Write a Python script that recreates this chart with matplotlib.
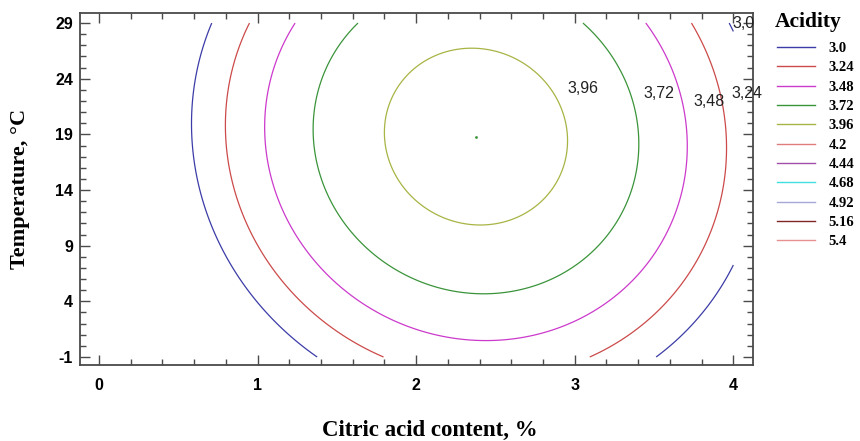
import numpy as np
import matplotlib
matplotlib.use("Agg")
import matplotlib.pyplot as plt
from matplotlib.lines import Line2D
from matplotlib.ticker import MultipleLocator

plt.rcParams["axes.unicode_minus"] = False

# Response surface for acidity:
# A = b0 + b1*C + b2*T + b11*C^2 + b22*T^2 + b12*C*T   (C = citric acid %, T = temperature degC)
intercept = 1.461311
linear = [1.62858, 0.0717148]
quadratic = [-0.3336, -0.0017639]
interaction = -0.0022685

citric_range = [0.0, 4.0]
temp_range = [-1.0, 29.0]

levels = [3.0, 3.24, 3.48, 3.72, 3.96, 4.2, 4.44, 4.68, 4.92, 5.16, 5.4]
level_labels = ["3.0", "3.24", "3.48", "3.72", "3.96", "4.2", "4.44", "4.68", "4.92", "5.16", "5.4"]
level_colors = ["#3c3ca8", "#cc4a4a", "#cc3acc", "#3a943a", "#a8b444", "#e07c7c",
                "#a050a8", "#40e0e0", "#a8a8d8", "#802828", "#e89090"]

# in-plot contour tags and where they sit (citric, temperature)
tag_text = ["3,96", "3,72", "3,48", "3,24", "3,0"]
tag_citric = [3.049, 3.531, 3.847, 4.084, 4.065]
tag_temp = [23.13, 22.69, 21.98, 22.71, 28.97]

x_ticks = [0, 1, 2, 3, 4]
y_ticks = [-1, 4, 9, 14, 19, 24, 29]


def acidity(c, t):
    return (intercept + linear[0] * c + linear[1] * t
            + quadratic[0] * c ** 2 + quadratic[1] * t ** 2 + interaction * c * t)


fig = plt.figure(figsize=(8.6, 4.41), dpi=100)
ax = fig.add_axes([0.0930, 0.1723, 0.7826, 0.7989])

c = np.linspace(citric_range[0], citric_range[1], 401)
t = np.linspace(temp_range[0], temp_range[1], 401)
C, T = np.meshgrid(c, t)
Z = acidity(C, T)

ax.contour(C, T, Z, levels=levels, colors=level_colors, linewidths=0.9)

# stationary point of the surface
A = np.array([[2 * quadratic[0], interaction], [interaction, 2 * quadratic[1]]])
opt = np.linalg.solve(A, -np.array(linear))
ax.plot(opt[0], opt[1], "o", ms=2.0, color="#3a943a", mec="none")

for s, xc, yc in zip(tag_text, tag_citric, tag_temp):
    ax.text(xc, yc, s, ha="center", va="center", fontsize=11.5,
            family="Liberation Sans", color="#222222", clip_on=False)

ax.set_xlim(-0.12, 4.124)
ax.set_ylim(-1.72, 29.93)
ax.set_xticks(x_ticks)
ax.set_yticks(y_ticks)
ax.xaxis.set_minor_locator(MultipleLocator(0.2))
ax.yaxis.set_minor_locator(MultipleLocator(1))
frame_col = "#4a4a4a"
for sp in ax.spines.values():
    sp.set_color(frame_col)
    sp.set_linewidth(1.3)
ax.tick_params(which="both", direction="in", top=True, right=True, color=frame_col, width=1.0)
ax.tick_params(which="major", length=7)
ax.tick_params(which="minor", length=4)
ax.tick_params(axis="x", pad=9)
ax.tick_params(axis="y", pad=5)
for lab in ax.get_xticklabels() + ax.get_yticklabels():
    lab.set_family("Liberation Sans")
    lab.set_fontweight("bold")
    lab.set_fontsize(11.5)

ax.set_xlabel("Citric acid content, %", family="Liberation Serif", fontweight="bold", fontsize=16.5)
ax.set_ylabel("Temperature, °C", family="Liberation Serif", fontweight="bold", fontsize=16)
ax.xaxis.label.set_va("center")
ax.yaxis.label.set_va("center")
ax.xaxis.set_label_coords(0.52, -0.185)
ax.yaxis.set_label_coords(-0.089, 0.5)

# legend: heading plus one line per contour level
fig.text(0.9012, 0.951, "Acidity", ha="left", va="center", family="Liberation Serif",
         fontweight="bold", fontsize=15.5)
handles = [Line2D([], [], color=col, lw=1.0) for col in level_colors]
fig.legend(handles, level_labels, loc="upper left", bbox_to_anchor=(0.904, 0.905),
           frameon=False, handlelength=2.6, handletextpad=0.9,
           labelspacing=0.42, borderaxespad=0.0, borderpad=0.0,
           prop={"family": "Liberation Serif", "weight": "bold", "size": 10.5})

fig.savefig("out.png", dpi=100)
